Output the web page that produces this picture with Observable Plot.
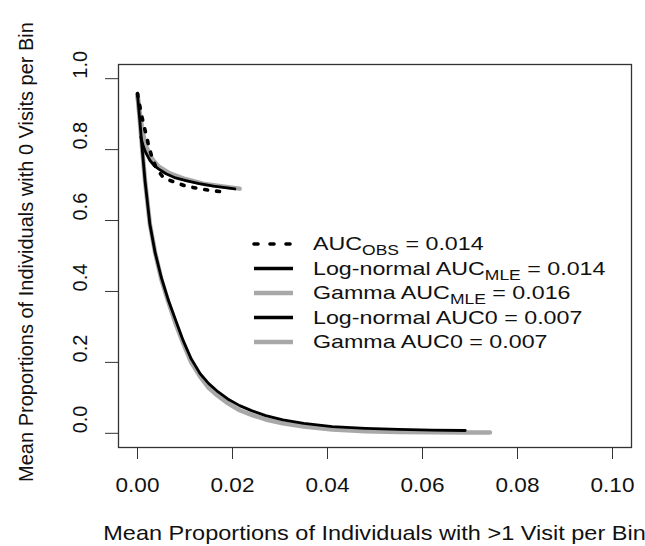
<!DOCTYPE html>
<html>
<head>
<meta charset="utf-8">
<script src="https://cdn.jsdelivr.net/npm/d3@7"></script>
<script src="https://cdn.jsdelivr.net/npm/@observablehq/plot@0.6"></script>
<style>
  html, body { margin: 0; padding: 0; background: #fff; }
  #chart { width: 645px; height: 546px; }
</style>
</head>
<body>
<div id="chart"></div>
<script>
// ---- Data ----
const xTicks = [0, 0.02, 0.04, 0.06, 0.08, 0.10];
const yTicks = [0, 0.2, 0.4, 0.6, 0.8, 1.0];

const xTitle = "Mean Proportions of Individuals with >1 Visit per Bin";
const yTitle = "Mean Proportions of Individuals with 0 Visits per Bin";

// Observed (dotted)
const obsX = [0, 0.0008, 0.0015, 0.0022, 0.003, 0.004, 0.0054, 0.007, 0.0085, 0.010, 0.0114, 0.013, 0.0148, 0.0166, 0.0184];
const obsY = [0.958, 0.90, 0.86, 0.82, 0.78, 0.746, 0.722, 0.712, 0.705, 0.698, 0.694, 0.690, 0.686, 0.683, 0.680];

// Log-normal MLE (black)
const lnMleX = [0.0007, 0.0012, 0.0018, 0.0026, 0.0035, 0.0045, 0.006, 0.008, 0.0104, 0.013, 0.016, 0.0205];
const lnMleY = [0.835, 0.81, 0.79, 0.77, 0.755, 0.745, 0.732, 0.720, 0.712, 0.704, 0.697, 0.689];

// Gamma MLE (grey)
const gamMleX = [0, 0.0004, 0.0009, 0.0014, 0.0019, 0.0026, 0.0033, 0.0045, 0.0068, 0.010, 0.0138, 0.0175, 0.0215];
const gamMleY = [0.955, 0.91, 0.865, 0.83, 0.807, 0.785, 0.770, 0.752, 0.733, 0.717, 0.704, 0.697, 0.690];

// Log-normal AUC0 (black)
const ln0X = [0, 0.0005, 0.001, 0.0016, 0.0026, 0.0037, 0.005, 0.0065, 0.008, 0.0096, 0.0113, 0.0132, 0.015, 0.0167, 0.019, 0.0215, 0.024, 0.027, 0.0306, 0.035, 0.041, 0.048, 0.055, 0.062, 0.069];
const ln0Y = [0.955, 0.88, 0.80, 0.71, 0.59, 0.51, 0.44, 0.375, 0.32, 0.262, 0.21, 0.168, 0.14, 0.12, 0.097, 0.078, 0.064, 0.050, 0.038, 0.028, 0.019, 0.014, 0.011, 0.009, 0.008];

// Gamma AUC0 (grey)
const gam0X = [0, 0.0005, 0.001, 0.0016, 0.0026, 0.0037, 0.005, 0.0065, 0.008, 0.0096, 0.0113, 0.0132, 0.015, 0.0167, 0.019, 0.0215, 0.024, 0.027, 0.0306, 0.035, 0.041, 0.048, 0.055, 0.062, 0.069, 0.0742];
const gam0Y = [0.955, 0.88, 0.80, 0.71, 0.59, 0.51, 0.435, 0.37, 0.31, 0.255, 0.20, 0.16, 0.128, 0.108, 0.085, 0.065, 0.052, 0.039, 0.028, 0.019, 0.011, 0.006, 0.004, 0.003, 0.002, 0.002];

const legendPre  = ["AUC", "Log-normal AUC", "Gamma AUC", "Log-normal AUC0 = 0.007", "Gamma AUC0 = 0.007"];
const legendSub  = ["OBS", "MLE", "MLE", "", ""];
const legendPost = [" = 0.014", " = 0.014", " = 0.016", "", ""];

const GREY = "#a8a8a8";
const legendStyle = [
  {color: "#000", width: 3.6, dash: "4,12"},
  {color: "#000", width: 3.4, dash: null},
  {color: GREY, width: 4.5, dash: null},
  {color: "#000", width: 3.4, dash: null},
  {color: GREY, width: 4.5, dash: null}
];

const toPts = (xs, ys) => xs.map((x, i) => ({x, y: ys[i]}));
const FONT = "'Liberation Sans', Arial, Helvetica, sans-serif";
const TXT = "#111";

const W = 645, H = 546, ML = 118, MR = 14, MT = 64, MB = 99;
const STRETCH = 1.13;

const chart = Plot.plot({
  width: W, height: H,
  marginLeft: ML, marginRight: MR, marginTop: MT, marginBottom: MB,
  x: {domain: [-0.004, 0.104]},
  y: {domain: [-0.04, 1.04]},
  style: {fontFamily: FONT, fontSize: "20px", color: TXT, background: "#fff"},
  marks: [
    Plot.axisX(xTicks, {tickSize: 12, tickPadding: 18, tickFormat: d => d.toFixed(2), fontSize: 20, label: null, stroke: "#333"}),
    Plot.axisY(yTicks, {tickSize: 13, tickFormat: () => "", label: null, stroke: "#333"}),
    Plot.text(yTicks, {y: d => d, text: d => d.toFixed(1), frameAnchor: "left", dx: -38, rotate: -90, fontSize: 20, fill: TXT}),
    Plot.line(toPts(gam0X, gam0Y), {x: "x", y: "y", stroke: GREY, strokeWidth: 4.5}),
    Plot.line(toPts(gamMleX, gamMleY), {x: "x", y: "y", stroke: GREY, strokeWidth: 4.5}),
    Plot.line(toPts(ln0X, ln0Y), {x: "x", y: "y", stroke: "#000", strokeWidth: 2.8}),
    Plot.line(toPts(lnMleX, lnMleY), {x: "x", y: "y", stroke: "#000", strokeWidth: 2.8}),
    Plot.line(toPts(obsX, obsY), {x: "x", y: "y", stroke: "#000", strokeWidth: 3.6, strokeDasharray: "3,9", strokeLinecap: "round"}),
    Plot.frame({stroke: "#333", strokeWidth: 1.3})
  ]
});

document.getElementById("chart").appendChild(chart);

const svg = d3.select(chart);

// widen the x tick labels horizontally around their centres (reference text is wider)
svg.selectAll('g[aria-label="x-axis tick label"] text').each(function () {
  const b = this.getBBox();
  const cx = b.x + b.width / 2;
  const t = this.getAttribute("transform") || "";
  this.setAttribute("transform", `${t} translate(${cx},0) scale(${STRETCH},1) translate(${-cx},0)`);
});

// Axis titles
svg.append("text")
  .attr("transform", `translate(${(ML + W - MR) / 2},540) scale(1.12,1)`)
  .attr("text-anchor", "middle")
  .attr("font-family", FONT).attr("font-size", 21).attr("fill", TXT)
  .text(xTitle);

svg.append("text")
  .attr("transform", `translate(33,252) rotate(-90)`)
  .attr("text-anchor", "middle")
  .attr("font-family", FONT).attr("font-size", 20).attr("fill", TXT)
  .text(yTitle);

// Legend
const lg = svg.append("g").attr("font-family", FONT).attr("font-size", 18.6).attr("fill", TXT).attr("text-anchor", "start");
legendPre.forEach((pre, i) => {
  const st = legendStyle[i];
  const cy = 244 + i * 24.5;
  lg.append("line")
    .attr("x1", 254).attr("x2", 293).attr("y1", cy).attr("y2", cy)
    .attr("stroke", st.color).attr("stroke-width", st.width)
    .attr("stroke-linecap", st.dash ? "round" : "butt")
    .attr("stroke-dasharray", st.dash);
  const t = lg.append("text")
    .attr("text-anchor", "start")
    .attr("transform", `translate(313,${cy + 6.3}) scale(1.25,1)`);
  t.append("tspan").text(pre);
  if (legendSub[i]) {
    t.append("tspan").attr("font-size", 14).attr("dy", 5).text(legendSub[i]);
    t.append("tspan").attr("dy", -5).text(legendPost[i]);
  }
});
</script>
</body>
</html>
